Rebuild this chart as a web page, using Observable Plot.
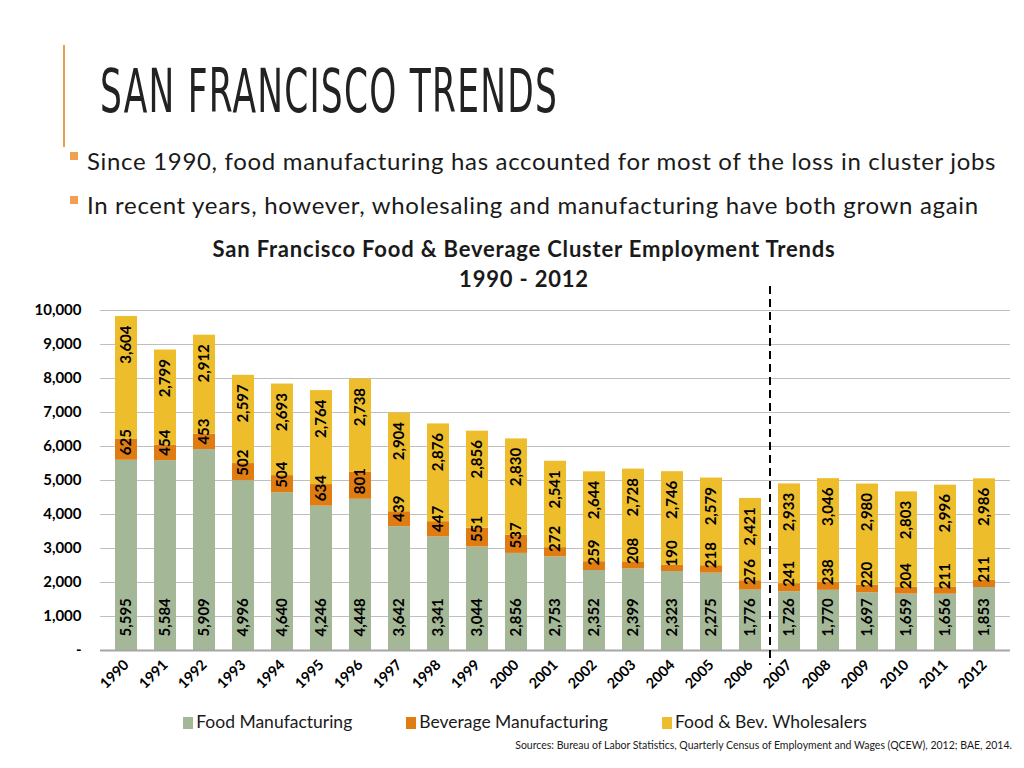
<!DOCTYPE html>
<html>
<head>
<meta charset="utf-8">
<script src="https://cdn.jsdelivr.net/npm/d3@7"></script>
<script src="https://cdn.jsdelivr.net/npm/@observablehq/plot@0.6"></script>
<style>
  html, body { margin: 0; padding: 0; background: #fff; }
  #page { position: relative; width: 1024px; height: 768px; overflow: hidden; font-family: Lato, "Open Sans", sans-serif; color: #1a1a1a; }
  .abs { position: absolute; white-space: nowrap; }
  #accent { position: absolute; left: 63px; top: 45px; width: 2px; height: 102px; background: #e8a050; }
  #title { left: 100px; top: 56px; font-family: "Liberation Sans Narrow", "DejaVu Sans Condensed", sans-serif; font-size: 61px; line-height: 70px; letter-spacing: 2px; transform-origin: 0 0; color: #222; }
  .bullet { left: 70px; font-size: 24px; line-height: 28px; letter-spacing: 0.68px; color: #1a1a1a; }
  .bullet .sq { display: inline-block; width: 8px; height: 8px; background: #f0a050; margin-right: 9px; vertical-align: 10px; }
  #ctitle { left: 0; width: 1048px; top: 234px; text-align: center; font-weight: 700; font-size: 22px; letter-spacing: 0.8px; line-height: 30px; }
  #chart { position: absolute; left: 0; top: 270px; }
  #legend { left: 0; width: 1050px; top: 710px; text-align: center; font-size: 17.5px; line-height: 24px; }
  #legend span.item { margin: 0 27px; }
  #legend span.sw { display: inline-block; width: 10px; height: 12px; margin-right: 3px; vertical-align: -1px; }
  #source { right: 12px; top: 739px; font-size: 10.5px; }
</style>
</head>
<body>
<div id="page">
  <div id="accent"></div>
  <div id="title" class="abs">SAN FRANCISCO TRENDS</div>
  <div class="abs bullet" style="top:147px"><span class="sq"></span>Since 1990, food manufacturing has accounted for most of the loss in cluster jobs</div>
  <div class="abs bullet" style="top:191px"><span class="sq"></span>In recent years, however, wholesaling and manufacturing have both grown again</div>
  <div id="ctitle" class="abs">San Francisco Food &amp; Beverage Cluster Employment Trends<br>1990 - 2012</div>
  <div id="chart"></div>
  <div id="legend" class="abs"></div>
  <div id="source" class="abs">Sources: Bureau of Labor Statistics, Quarterly Census of Employment and Wages (QCEW), 2012; BAE, 2014.</div>
</div>
<script>
const years = ["1990","1991","1992","1993","1994","1995","1996","1997","1998","1999","2000","2001","2002","2003","2004","2005","2006","2007","2008","2009","2010","2011","2012"];
const seriesNames = ["Food Manufacturing", "Beverage Manufacturing", "Food & Bev. Wholesalers"];
const foodManufacturing = [5595,5584,5909,4996,4640,4246,4448,3642,3341,3044,2856,2753,2352,2399,2323,2275,1776,1726,1770,1697,1659,1656,1853];
const beverageManufacturing = [625,454,453,502,504,634,801,439,447,551,537,272,259,208,190,218,276,241,238,220,204,211,211];
const wholesalers = [3604,2799,2912,2597,2693,2764,2738,2904,2876,2856,2830,2541,2644,2728,2746,2579,2421,2933,3046,2980,2803,2996,2986];
const yTicks = [0,1000,2000,3000,4000,5000,6000,7000,8000,9000,10000];
const dividerYear = "2007";
const colors = ["#a4b897", "#df7c12", "#eebd2c"];

const seriesValues = [foodManufacturing, beverageManufacturing, wholesalers];
const data = [];
years.forEach((yr, i) => {
  seriesNames.forEach((s, k) => data.push({year: yr, series: s, value: seriesValues[k][i]}));
});

const fmt = d3.format(",");
const W = 1024, H = 430;

function build(dxRule) {
  const stackOpts = {x: "year", y: "value", z: "series", order: seriesNames};
  const labelFont = {fontSize: 15, fontWeight: 700, fill: "#000", rotate: -90, fontFamily: "Lato, sans-serif"};
  return Plot.plot({
    width: W,
    height: H,
    marginLeft: 100,
    marginRight: 14,
    marginTop: 40,
    marginBottom: 50,
    style: {fontFamily: "Lato, sans-serif", background: "transparent", color: "#000"},
    x: {type: "band", domain: years, paddingInner: 0.44, paddingOuter: 0.22, label: null},
    y: {domain: [0, 10000], label: null},
    color: {domain: seriesNames, range: colors},
    marks: [
      Plot.gridY(yTicks, {stroke: "#bfbfbf", strokeOpacity: 1, strokeWidth: 1.2}),
      Plot.axisY(yTicks, {tickSize: 0, tickPadding: 19, tickFormat: d => d === 0 ? "-" : fmt(d), fontSize: 15, fontWeight: 700, label: null}),
      Plot.barY(data, Plot.stackY({...stackOpts, fill: "series"})),
      Plot.ruleY([0], {stroke: "#a6a6a6", strokeWidth: 2}),
      Plot.axisX({tickSize: 0, tickPadding: 12, tickRotate: -45, fontSize: 14.5, fontWeight: 700, label: null}),
      Plot.text(data, Plot.stackY1({...stackOpts, text: d => d.series === seriesNames[0] ? fmt(d.value) : null, textAnchor: "start", dy: -14, ...labelFont})),
      Plot.text(data, Plot.stackY1({...stackOpts, text: d => d.series === seriesNames[1] ? fmt(d.value) : null, textAnchor: "start", dy: -5, ...labelFont})),
      Plot.text(data, Plot.stackY2({...stackOpts, text: d => d.series === seriesNames[2] ? fmt(d.value) : null, textAnchor: "end", dy: 9, ...labelFont})),
      Plot.ruleX([dividerYear], {stroke: "#000", strokeWidth: 2, strokeDasharray: "8,5", insetTop: -24, insetBottom: -15, dx: dxRule})
    ]
  });
}

let chart = build(0);
const step = chart.scale("x").step;
chart = build(-step / 2);
document.getElementById("chart").appendChild(chart);

// legend
const legend = document.getElementById("legend");
seriesNames.forEach((s, k) => {
  const item = document.createElement("span");
  item.className = "item";
  const sw = document.createElement("span");
  sw.className = "sw";
  sw.style.background = colors[k];
  item.appendChild(sw);
  item.appendChild(document.createTextNode(s));
  legend.appendChild(item);
});

// fit title width
const t = document.getElementById("title");
const tw = t.getBoundingClientRect().width;
t.style.transform = `scaleX(${458 / tw})`;
</script>
</body>
</html>
